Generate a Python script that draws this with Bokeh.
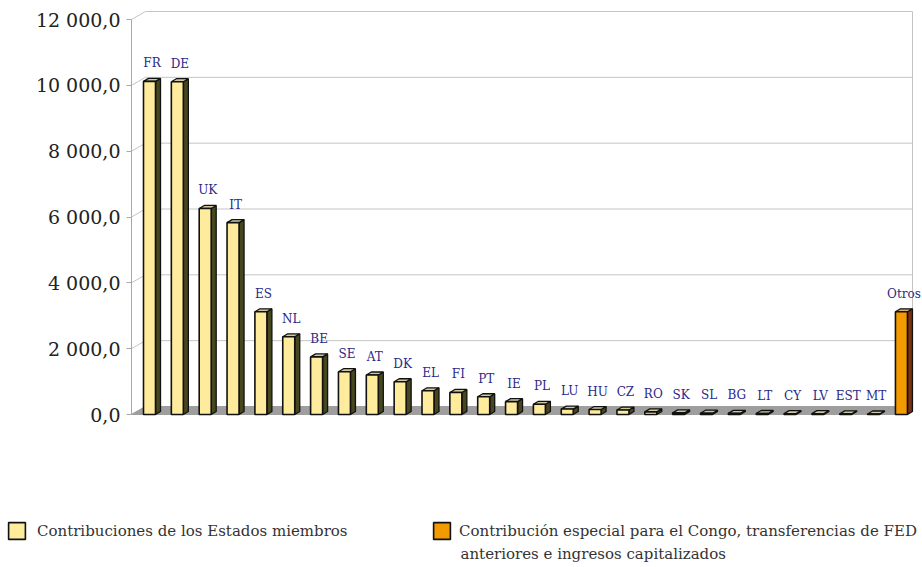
from bokeh.plotting import figure
from bokeh.models import (ColumnDataSource, Range1d, LinearAxis, FixedTicker,
                          Legend, LegendItem, Label)
from bokeh.core.properties import value
from bokeh.embed import file_html
from bokeh.resources import INLINE

# ---- data -------------------------------------------------------------
countries = ["FR", "DE", "UK", "IT", "ES", "NL", "BE", "SE", "AT", "DK",
             "EL", "FI", "PT", "IE", "PL", "LU", "HU", "CZ", "RO", "SK",
             "SL", "BG", "LT", "CY", "LV", "EST", "MT"]
contributions = [10120, 10110, 6260, 5830, 3120, 2360, 1750, 1300, 1200, 995,
                 720, 670, 540, 390, 310, 165, 150, 135, 80, 50,
                 40, 35, 30, 25, 25, 20, 15]
other_names = ["Otros"]
other_values = [3120]

y_ticks = [0, 2000, 4000, 6000, 8000, 10000, 12000]
y_tick_labels = ["0,0", "2 000,0", "4 000,0", "6 000,0", "8 000,0",
                 "10 000,0", "12 000,0"]
legend_labels = ["Contribuciones de los Estados miembros",
                 "Contribución especial para el Congo, transferencias de FED"]
legend_second_line = "anteriores e ingresos capitalizados"

# ---- screen geometry --------------------------------------------------
W, H = 922, 567
UNIT_PX = 27.85                       # distance between neighbouring columns
FIRST_PX = 149                        # centre of the first column's front face
ZERO_PX = 414                         # screen row of the value 0
TOP_PX = 19                           # screen row of the top tick
PX_PER_VAL = (ZERO_PX - TOP_PX) / y_ticks[-1]

x_start = -FIRST_PX / UNIT_PX
x_end = (W - FIRST_PX) / UNIT_PX
y_end = ZERO_PX / PX_PER_VAL
y_start = -(H - ZERO_PX) / PX_PER_VAL

BAR_W = 12 / UNIT_PX                  # front face width
DEPTH_X = 5 / UNIT_PX                 # column depth, sideways
DEPTH_Y = 3 / PX_PER_VAL              # column depth, upwards
WALL_X = 14 / UNIT_PX                 # floor/wall depth
WALL_Y = 8 / PX_PER_VAL
WALL_LEFT = (131 - FIRST_PX) / UNIT_PX
WALL_RIGHT = (912 - FIRST_PX) / UNIT_PX

FONT = value("DejaVu Serif")
LEGEND_FONT_SIZE = "15px"
LEGEND_TEXT_COLOR = "#333333"


def column_shapes(positions, vals):
    """Front face, side face and top face of 3-D columns."""
    left = [x - BAR_W / 2 for x in positions]
    right = [x + BAR_W / 2 for x in positions]
    side_xs, side_ys, top_xs, top_ys = [], [], [], []
    for l, r, v in zip(left, right, vals):
        side_xs.append([r, r + DEPTH_X, r + DEPTH_X, r])
        side_ys.append([0, DEPTH_Y, v + DEPTH_Y, v])
        top_xs.append([l, r, r + DEPTH_X, l + DEPTH_X])
        top_ys.append([v, v, v + DEPTH_Y, v + DEPTH_Y])
    return (dict(left=left, right=right, bottom=[0] * len(vals), top=vals),
            dict(xs=side_xs, ys=side_ys), dict(xs=top_xs, ys=top_ys))


p = figure(width=W, height=H, output_backend="svg", toolbar_location=None,
           x_range=Range1d(x_start, x_end), y_range=Range1d(y_start, y_end),
           x_axis_location=None, y_axis_location=None,
           min_border=0, outline_line_color=None)
p.grid.visible = False

# ---- walls and floor --------------------------------------------------
grid_col = "#c4c4c4"
p.segment(x0=[WALL_LEFT + WALL_X] * len(y_ticks),
          y0=[t + WALL_Y for t in y_ticks],
          x1=[WALL_RIGHT] * len(y_ticks),
          y1=[t + WALL_Y for t in y_ticks], line_color=grid_col, line_width=1)
p.segment(x0=[WALL_LEFT] * len(y_ticks), y0=y_ticks,
          x1=[WALL_LEFT + WALL_X] * len(y_ticks),
          y1=[t + WALL_Y for t in y_ticks], line_color=grid_col, line_width=1)
p.segment(x0=[WALL_RIGHT], y0=[WALL_Y], x1=[WALL_RIGHT],
          y1=[y_ticks[-1] + WALL_Y], line_color=grid_col, line_width=1)
p.patch(x=[WALL_LEFT, WALL_RIGHT - WALL_X, WALL_RIGHT, WALL_LEFT + WALL_X],
        y=[0, 0, WALL_Y, WALL_Y], fill_color="#9e9e9e", line_color="#9e9e9e")

# ---- columns ----------------------------------------------------------
member_pos = list(range(len(countries)))
other_pos = [len(countries) + i for i in range(len(other_names))]

series = [
    (member_pos, contributions, countries, "#ffeb9c", "#47471f", "#cfc8a2"),
    (other_pos, other_values, other_names, "#f29a00", "#7a3212", "#d8b070"),
]
fronts = []
for pos, vals, names, front_col, side_col, top_col in series:
    front, side, top = column_shapes(pos, vals)
    p.patches(xs="xs", ys="ys", source=ColumnDataSource(side),
              fill_color=side_col, line_color="#111111", line_width=1.3)
    p.patches(xs="xs", ys="ys", source=ColumnDataSource(top),
              fill_color=top_col, line_color="#111111", line_width=1.3)
    r = p.quad(left="left", right="right", bottom="bottom", top="top",
               source=ColumnDataSource(front), fill_color=front_col,
               line_color="#111111", line_width=1.6)
    fronts.append(r)
    p.text(x=[x + DEPTH_X / 2 for x in pos], y=[v + DEPTH_Y for v in vals],
           text=names, text_align="center", text_baseline="bottom",
           y_offset=-8, text_font=FONT, text_font_size="12px",
           text_color="#2a2a8a")

# ---- value axis on the front edge of the left wall -------------------
yaxis = LinearAxis(fixed_location=WALL_LEFT, bounds=(y_ticks[0], y_ticks[-1]),
                   ticker=FixedTicker(ticks=y_ticks),
                   major_label_overrides=dict(zip(y_ticks, y_tick_labels)))
yaxis.axis_line_color = "#a8a8a8"
yaxis.major_tick_line_color = "#a8a8a8"
yaxis.major_tick_out = 5
yaxis.major_tick_in = 0
yaxis.minor_tick_line_color = None
yaxis.major_label_standoff = 6
yaxis.major_label_text_font = "DejaVu Serif"
yaxis.major_label_text_font_size = "19px"
yaxis.major_label_text_color = "#222222"
p.add_layout(yaxis, "left")

# ---- legends ----------------------------------------------------------
def make_legend(label, renderer, loc, standoff):
    return Legend(items=[LegendItem(label=label, renderers=[renderer])],
                  location=loc, border_line_color=None,
                  background_fill_alpha=0, padding=0, margin=0, spacing=0,
                  glyph_width=21, glyph_height=21, label_height=21,
                  label_standoff=standoff, label_text_font="DejaVu Serif",
                  label_text_font_size=LEGEND_FONT_SIZE,
                  label_text_color=LEGEND_TEXT_COLOR)


p.add_layout(make_legend(legend_labels[0], fronts[0], (6, 26), 10))
p.add_layout(make_legend(legend_labels[1], fronts[1], (431, 26), 7))
p.add_layout(Label(x=460, y=H - 553, x_units="screen", y_units="screen",
                   text=legend_second_line, text_baseline="middle",
                   text_font="DejaVu Serif", text_font_size=LEGEND_FONT_SIZE,
                   text_color=LEGEND_TEXT_COLOR))

open("out.html", "w").write(file_html(p, INLINE))
